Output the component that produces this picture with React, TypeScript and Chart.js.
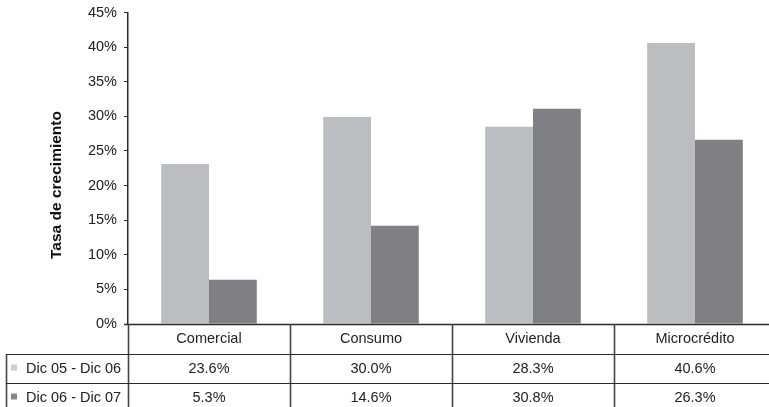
import React, { useEffect, useRef } from "react";
import { Chart, registerables } from "chart.js";

Chart.register(...registerables);

const categories = ["Comercial", "Consumo", "Vivienda", "Microcrédito"];
const seriesNames = ["Dic 05 - Dic 06", "Dic 06 - Dic 07"];
// bar heights as drawn in the picture
const barsDic0506 = [23.1, 29.9, 28.5, 40.6];
const barsDic0607 = [6.4, 14.2, 31.1, 26.6];
// values printed in the data table
const tableDic0506 = ["23.6%", "30.0%", "28.3%", "40.6%"];
const tableDic0607 = ["5.3%", "14.6%", "30.8%", "26.3%"];
const yTicks = [0, 5, 10, 15, 20, 25, 30, 35, 40, 45];

const LIGHT = "#bcbdc1";
const DARK = "#808084";
const FONT = "'Liberation Sans', Arial, Helvetica, sans-serif";

const tablePlugin = {
  id: "dataTable",
  afterDraw(chart: any) {
    const { ctx, chartArea } = chart;
    const { left, right, bottom } = chartArea;
    const H = chart.height;
    const n = categories.length;
    const catW = (right - left) / n;
    const row1 = bottom + 30.5;
    const row2 = bottom + 59.5;
    ctx.save();
    // x axis line
    ctx.strokeStyle = "#2a2a2a";
    ctx.lineWidth = 1.5;
    ctx.beginPath();
    ctx.moveTo(left - 4, bottom + 0.5);
    ctx.lineTo(right, bottom + 0.5);
    ctx.stroke();
    // vertical lines
    ctx.strokeStyle = "#444";
    ctx.lineWidth = 1.6;
    for (let i = 0; i <= n; i++) {
      const x = Math.round(left + i * catW) + 0.5;
      ctx.beginPath();
      ctx.moveTo(x, bottom);
      ctx.lineTo(x, H);
      ctx.stroke();
    }
    ctx.beginPath();
    ctx.moveTo(6.5, row1);
    ctx.lineTo(6.5, H);
    ctx.stroke();
    // horizontal lines
    ctx.strokeStyle = "#2a2a2a";
    ctx.lineWidth = 1;
    [row1, row2].forEach((y) => {
      ctx.beginPath();
      ctx.moveTo(6, y);
      ctx.lineTo(right, y);
      ctx.stroke();
    });
    // texts
    ctx.fillStyle = "#222";
    ctx.font = `14.5px ${FONT}`;
    ctx.textAlign = "center";
    ctx.textBaseline = "middle";
    const xs = chart.scales.x;
    categories.forEach((c, i) => {
      const cx = xs.getPixelForValue(i);
      ctx.fillText(c, cx, bottom + 15);
      ctx.fillText(tableDic0506[i], cx, row1 + 14);
      ctx.fillText(tableDic0607[i], cx, row2 + 14);
    });
    ctx.textAlign = "left";
    ctx.fillText(seriesNames[0], 26, row1 + 14);
    ctx.fillText(seriesNames[1], 26, row2 + 14);
    ctx.fillStyle = "#cfcfd2";
    ctx.fillRect(11, row1 + 10, 6, 6);
    ctx.fillStyle = "#88888c";
    ctx.fillRect(11, row2 + 10, 6, 6);
    // y axis title
    ctx.save();
    ctx.translate(57, 185);
    ctx.rotate(-Math.PI / 2);
    ctx.textAlign = "center";
    ctx.textBaseline = "middle";
    ctx.fillStyle = "#111";
    ctx.font = `bold 15.5px ${FONT}`;
    ctx.fillText("Tasa de crecimiento", 0, 0);
    ctx.restore();
    ctx.restore();
  },
};

export default function App() {
  const ref = useRef<HTMLCanvasElement>(null);
  useEffect(() => {
    if (!ref.current) return;
    const chart = new Chart(ref.current, {
      type: "bar",
      data: {
        labels: categories,
        datasets: [
          { label: seriesNames[0], data: barsDic0506, backgroundColor: LIGHT, barPercentage: 1, categoryPercentage: 0.59 },
          { label: seriesNames[1], data: barsDic0607, backgroundColor: DARK, barPercentage: 1, categoryPercentage: 0.59 },
        ],
      },
      options: {
        responsive: false,
        animation: false,
        layout: { padding: { top: 12.5, bottom: 83, left: 0, right: 0 } },
        plugins: { legend: { display: false }, tooltip: { enabled: false } },
        scales: {
          x: { display: false },
          y: {
            min: 0,
            max: 45,
            afterBuildTicks: (scale: any) => {
              scale.ticks = yTicks.map((v) => ({ value: v }));
            },
            afterFit: (scale: any) => {
              scale.width = 128;
              scale.paddingTop = 0;
              scale.paddingBottom = 0;
            },
            ticks: {
              callback: (v: any) => v + "%",
              color: "#222",
              font: { family: FONT, size: 14.5 },
              padding: 7,
            },
            grid: { display: true, drawOnChartArea: false, drawTicks: true, tickLength: 4, color: "#2a2a2a" },
            border: { display: true, color: "#2a2a2a", width: 1.5 },
          },
        },
      },
      plugins: [tablePlugin],
    });
    return () => chart.destroy();
  }, []);
  return (
    <div style={{ position: "fixed", left: 0, top: 0, width: 769, height: 407, overflow: "hidden", background: "#fff" }}>
      <canvas ref={ref} width={776} height={407} style={{ width: 776, height: 407, display: "block" }} />
    </div>
  );
}
